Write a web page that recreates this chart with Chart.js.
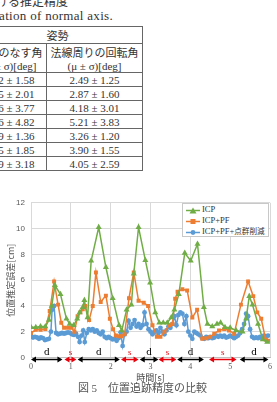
<!DOCTYPE html>
<html>
<head>
<meta charset="utf-8">
<script src="https://cdn.jsdelivr.net/npm/chart.js@4.4.0/dist/chart.umd.min.js"></script>
<style>
  html, body { margin: 0; padding: 0; background: #fff; }
  body { width: 277px; height: 402px; position: relative; overflow: hidden;
         font-family: "Liberation Serif", "Noto Sans CJK JP", serif; color: #333; }
  .cap { position: absolute; white-space: nowrap; }
  table { position: absolute; left: -28px; top: 26px; border-collapse: collapse;
          font-size: 11px; color: #333; }
  td { border: 1px solid #666; text-align: center; padding: 0; white-space: nowrap; }
  #wrap { position: absolute; left: 0; top: 192px; width: 277px; height: 191px; }
  #legend { position: absolute; left: 182px; top: 203px; width: 85px; height: 32px;
            background: #fff; border: 1px solid #c8c8c8; font-size: 8.5px; color: #333; }
  .li { position: absolute; left: 3px; height: 12px; line-height: 12px; white-space: nowrap; }
  .li svg { vertical-align: middle; margin-right: 2px; }
  .li span.j { font-size: 7.6px; }
</style>
</head>
<body>
<div class="cap" style="right:209px; top:-8px; font-size:12px;">表 3　法線軸の回転における推定精度</div>
<div class="cap" style="right:164px; top:5px; font-size:13px; letter-spacing:0.3px;">Table 3　Accuracy of rotation of normal axis.</div>

<table>
  <tr style="height:14px"><td colspan="2">姿勢</td></tr>
  <tr style="height:28px"><td style="width:73px">法線のなす角<br>(μ ± σ)[deg]</td><td style="width:95px">法線周りの回転角<br>(μ ± σ)[deg]</td></tr>
  <tr style="height:14px"><td>3.32 ± 1.58</td><td>2.49 ± 1.25</td></tr>
  <tr style="height:14px"><td>3.45 ± 2.01</td><td>2.87 ± 1.60</td></tr>
  <tr style="height:14px"><td>5.16 ± 3.77</td><td>4.18 ± 3.01</td></tr>
  <tr style="height:14px"><td>6.36 ± 4.82</td><td>5.21 ± 3.83</td></tr>
  <tr style="height:14px"><td>3.09 ± 1.36</td><td>3.26 ± 1.20</td></tr>
  <tr style="height:14px"><td>3.65 ± 1.85</td><td>3.90 ± 1.55</td></tr>
  <tr style="height:14px"><td>4.39 ± 3.18</td><td>4.05 ± 2.59</td></tr>
</table>

<div id="wrap"><canvas id="myChart"></canvas></div>
<div id="legend"></div>

<div class="cap" style="left:0; width:285px; text-align:center; top:379px; font-size:11px; color:#555;">図 5　位置追跡精度の比較</div>

<script>
let seriesNames = ['ICP', 'ICP+PF', 'ICP+PF+点群削減'];
let seriesColors = ['#70AD47', '#ED7D31', '#5B9BD5'];
let seriesMarkers = ['triangle', 'rect', 'circle'];

// ICP
let icpT = [0.00, 0.12, 0.24, 0.36, 0.45, 0.52, 0.60, 0.74, 0.89, 0.97, 1.07, 1.16, 1.22, 1.30, 1.34, 1.42,
            1.51, 1.70, 1.88, 2.05, 2.21, 2.28, 2.40, 2.52, 2.58, 2.70, 2.87, 2.99, 3.12, 3.22, 3.32, 3.42,
            3.52, 3.60, 3.71, 3.86, 4.01, 4.18, 4.34, 4.43, 4.55, 4.67, 4.76, 4.87, 5.00, 5.15, 5.31, 5.40,
            5.48, 5.56, 5.70, 5.82, 5.93];
let icpV = [2.35, 2.35, 2.4, 2.4, 2.9, 4.0, 5.6, 4.9, 3.0, 2.6, 2.5, 3.0, 3.5, 3.9, 4.45, 3.1,
            7.5, 10.1, 7.0, 4.6, 2.5, 2.1, 3.7, 4.1, 6.5, 10.1, 7.55, 5.8, 3.5, 2.7, 2.7, 2.7,
            3.1, 3.7, 4.9, 8.1, 7.5, 8.8, 3.9, 2.6, 2.4, 2.6, 2.7, 2.35, 2.3, 2.1, 2.0, 3.0,
            4.76, 4.1, 2.6, 1.4, 1.2];

// ICP+PF
let pfT = [0.00, 0.12, 0.24, 0.36, 0.47, 0.58, 0.68, 0.76, 0.83, 0.93, 1.02, 1.09, 1.17, 1.24, 1.30, 1.36,
           1.46, 1.55, 1.63, 1.75, 1.88, 1.98, 2.06, 2.13, 2.20, 2.28, 2.35, 2.46, 2.58, 2.70, 2.83, 2.94,
           3.05, 3.16, 3.25, 3.35, 3.47, 3.55, 3.62, 3.68, 3.80, 3.92, 4.05, 4.17, 4.30, 4.40, 4.50, 4.60,
           4.72, 4.85, 4.97, 5.10, 5.27, 5.45, 5.58, 5.68, 5.78, 5.89, 5.97];
let pfV = [1.9, 2.15, 2.15, 2.2, 3.6, 5.9, 4.1, 2.7, 2.3, 2.3, 2.3, 2.0, 3.2, 3.5, 3.75, 4.0,
           2.9, 4.0, 6.6, 4.3, 4.8, 3.0, 2.2, 1.7, 1.65, 1.65, 1.8, 4.6, 6.6, 4.4, 4.25, 4.0,
           2.5, 1.6, 1.6, 2.0, 2.5, 2.6, 4.55, 5.1, 5.3, 5.2, 3.1, 3.7, 1.45, 1.5, 1.6, 1.85,
           2.1, 2.2, 2.1, 1.85, 4.1, 5.9, 4.76, 3.5, 3.0, 1.4, 1.3];

// ICP+PF+点群削減
let redT = [0.00, 0.05, 0.10, 0.15, 0.20, 0.25, 0.30, 0.35, 0.40, 0.45, 0.50, 0.53, 0.58, 0.63, 0.68, 0.73,
            0.78, 0.83, 0.88, 0.93, 0.98, 1.03, 1.08, 1.13, 1.18, 1.22, 1.27, 1.31, 1.35, 1.40, 1.45, 1.50,
            1.55, 1.60, 1.65, 1.70, 1.75, 1.80, 1.85, 1.90, 1.95, 2.00, 2.05, 2.10, 2.15, 2.20, 2.25, 2.30,
            2.35, 2.40, 2.45, 2.50, 2.55, 2.60, 2.65, 2.70, 2.75, 2.80, 2.85, 2.90, 2.95, 3.00, 3.05, 3.10,
            3.15, 3.20, 3.25, 3.30, 3.35, 3.40, 3.45, 3.50, 3.55, 3.60, 3.65, 3.70, 3.75, 3.80, 3.85, 3.90,
            3.95, 4.00, 4.05, 4.10, 4.15, 4.20, 4.25, 4.30, 4.35, 4.40, 4.45, 4.50, 4.55, 4.60, 4.65, 4.70,
            4.75, 4.80, 4.85, 4.90, 4.95, 5.00, 5.05, 5.10, 5.15, 5.20, 5.25, 5.30, 5.35, 5.40, 5.45, 5.50,
            5.55, 5.60, 5.65, 5.70, 5.75, 5.80, 5.85, 5.90, 5.95];
let redV = [1.65, 1.55, 1.6, 1.55, 1.45, 1.55, 1.5, 1.35, 1.4, 1.45, 2.0, 3.7, 4.0, 1.9, 1.8, 1.85,
            1.9, 1.85, 1.9, 1.95, 1.9, 1.8, 1.75, 1.85, 1.6, 1.2, 1.7, 2.1, 1.2, 1.9, 2.2, 2.1,
            2.2, 2.0, 2.1, 1.9, 1.8, 2.0, 1.6, 1.5, 1.6, 1.5, 1.4, 1.45, 1.3, 1.5, 1.95, 0.9,
            1.8, 2.0, 2.85, 2.3, 2.6, 2.9, 2.4, 2.6, 2.3, 2.5, 3.5, 2.6, 2.2, 2.0, 1.8, 2.0,
            2.1, 1.9, 2.3, 2.0, 1.8, 2.1, 2.4, 2.3, 2.6, 3.2, 2.5, 3.3, 3.5, 3.4, 2.6, 3.2,
            2.0, 1.7, 1.45, 2.0, 1.9, 1.8, 1.7, 1.5, 1.45, 1.6, 1.5, 1.6, 1.5, 1.55, 1.7, 1.6,
            1.7, 1.6, 1.7, 1.55, 1.6, 1.7, 1.6, 1.5, 1.6, 1.7, 1.9, 2.2, 2.6, 3.4, 3.2, 2.2,
            1.6, 1.5, 1.55, 1.5, 1.6, 1.5, 1.7, 1.6, 1.7];

// motion phases under the x axis (d / s)
let phaseLabels = ['d', 's', 'd', 's', 'd', 's', 'd', 's', 'd'];
let phaseStart = [0.00, 0.84, 1.17, 2.26, 2.73, 3.20, 3.67, 4.47, 5.24];
let phaseEnd   = [0.79, 1.14, 2.23, 2.70, 3.20, 3.65, 4.34, 5.16, 5.96];

let xTicks = [0, 1, 2, 3, 4, 5, 6];
let yTicks = [0, 2, 4, 6, 8, 10, 12];

function pts(t, v) {
    return t.map((x, i) => ({ x: x, y: v[i] }));
}

let seriesData = [pts(icpT, icpV), pts(pfT, pfV), pts(redT, redV)];
let markerSize = [3.5, 2.8, 2.4];

let phasePlugin = {
    id: 'phases',
    afterDatasetsDraw(chart) {
        let ctx = chart.ctx;
        let xs = chart.scales.x;
        let base = chart.chartArea.bottom + 2;
        ctx.save();
        phaseLabels.forEach((lab, i) => {
            let x1 = xs.getPixelForValue(phaseStart[i]);
            let x2 = xs.getPixelForValue(phaseEnd[i]);
            let col = lab == 's' ? '#e8000b' : '#000';
            ctx.strokeStyle = col;
            ctx.fillStyle = col;
            ctx.lineWidth = 1.5;
            ctx.beginPath();
            ctx.moveTo(x1 + 2, base);
            ctx.lineTo(x2 - 2, base);
            ctx.stroke();
            // arrow heads
            ctx.beginPath();
            ctx.moveTo(x1, base);
            ctx.lineTo(x1 + 5, base - 3);
            ctx.lineTo(x1 + 5, base + 3);
            ctx.closePath();
            ctx.fill();
            ctx.beginPath();
            ctx.moveTo(x2, base);
            ctx.lineTo(x2 - 5, base - 3);
            ctx.lineTo(x2 - 5, base + 3);
            ctx.closePath();
            ctx.fill();
            ctx.font = lab == 's' ? '9px "Liberation Serif"' : '11px "Liberation Serif"';
            ctx.textAlign = 'center';
            ctx.textBaseline = 'alphabetic';
            ctx.fillText(lab, (x1 + x2) / 2, base - 5);
        });
        ctx.restore();
    }
};

let linechart = document.getElementById('myChart').getContext('2d');

let chart = new Chart(linechart, {
    type: 'line',
    data: {
        datasets: seriesNames.map((name, i) => ({
            label: name,
            data: seriesData[i],
            borderColor: seriesColors[i],
            backgroundColor: seriesColors[i],
            borderWidth: 1.5,
            pointStyle: seriesMarkers[i],
            pointRadius: markerSize[i],
            pointBorderWidth: 0,
            tension: 0,
            order: i
        }))
    },
    options: {
        responsive: true,
        maintainAspectRatio: false,
        animation: false,
        layout: { padding: { top: 8, right: 4, left: 0, bottom: 0 } },
        plugins: {
            legend: { display: false },
            tooltip: { enabled: false }
        },
        scales: {
            x: {
                type: 'linear',
                min: 0,
                max: 6,
                afterBuildTicks: s => { s.ticks = xTicks.map(v => ({ value: v })); },
                afterFit: s => { s.height = 25.5; },
                grid: { color: '#d9d9d9', drawTicks: false },
                border: { color: '#bfbfbf' },
                ticks: { padding: 5, color: '#595959', font: { size: 8, family: 'Liberation Serif' } },
                title: {
                    display: true, text: '時間[s]', color: '#444',
                    font: { size: 9, family: 'Noto Sans CJK JP' }, padding: { top: 0, bottom: 0 }
                }
            },
            y: {
                min: 0,
                max: 12,
                afterBuildTicks: s => { s.ticks = yTicks.map(v => ({ value: v })); },
                afterFit: s => { s.width = 31; },
                grid: { color: '#d9d9d9', drawTicks: false },
                border: { color: '#d9d9d9' },
                ticks: { padding: 6, color: '#595959', font: { size: 8, family: 'Liberation Sans' } },
                title: {
                    display: true, text: '位置推定誤差[cm]', color: '#555',
                    font: { size: 9, family: 'Noto Sans CJK JP' }, padding: { top: 5, bottom: 0 }
                }
            }
        }
    },
    plugins: [phasePlugin]
});

// legend box drawn from the same series arrays
let legendBox = document.getElementById('legend');
seriesNames.forEach((name, i) => {
    let c = seriesColors[i];
    let m = '';
    if (seriesMarkers[i] == 'triangle') m = `<polygon points="7,1.5 10.5,7.5 3.5,7.5" fill="${c}"/>`;
    else if (seriesMarkers[i] == 'rect') m = `<rect x="4.5" y="2" width="5" height="5" fill="${c}"/>`;
    else m = `<circle cx="7" cy="4.5" r="2.4" fill="${c}"/>`;
    let row = document.createElement('div');
    row.className = 'li';
    row.style.top = (i * 11 - 1) + 'px';
    let label = name.replace(/([^\x00-\x7f]+)/g, '<span class="j">$1</span>');
    row.innerHTML = `<svg width="14" height="9"><line x1="0" y1="4.5" x2="14" y2="4.5" stroke="${c}" stroke-width="1.5"/>${m}</svg>${label}`;
    legendBox.appendChild(row);
});
</script>
</body>
</html>
